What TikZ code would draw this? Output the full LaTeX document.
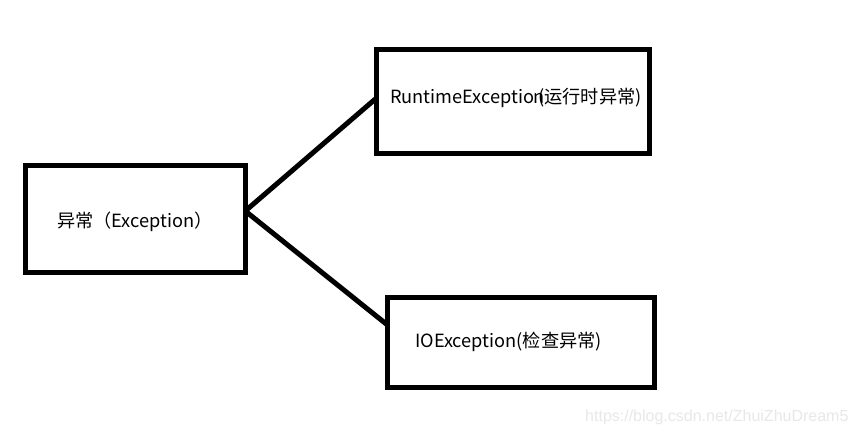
\documentclass[tikz,border=0pt]{standalone}
\usepackage{fontspec}
\setmainfont{Noto Sans CJK SC}
\newfontfamily\wmfont{Liberation Sans}
\begin{document}
\begin{tikzpicture}[x=1pt,y=-1pt,
  boxst/.style={draw=black,line width=5pt,inner sep=0pt,outer sep=0pt},
  conn/.style={draw=black,line width=5pt},
  txt/.style={anchor=west,inner sep=0pt,font=\fontsize{18.2}{20}\selectfont,text=black}]
\useasboundingbox[fill=white] (0,0) rectangle (856,435);
\node[boxst,minimum width=220pt,minimum height=107.5pt] (exc) at (135.25,219.25) {};
\node[boxst,minimum width=273pt,minimum height=104pt] (rt) at (513,101.5) {};
\node[boxst,minimum width=267pt,minimum height=90pt] (io) at (521,342.5) {};
\coordinate (j) at (exc.east |- 0,211);
\coordinate (rtin) at (rt.west |- 0,98);
\coordinate (ioin) at (io.west |- 0,325);
\draw[conn] (j) -- (rtin);
\draw[conn] (j) -- (ioin);
\node[txt] (t1) at (57,222) {异常（Exception）};
\node[txt] (t2) at (390,98) {RuntimeExceptio\kern-1pt n\kern-6pt(运行时异常)};
\node[txt] (t3) at (415,342) {IOException(检查异常)};
\node[anchor=west,inner sep=0pt,font=\wmfont\fontsize{16}{18}\selectfont,text=black!9] (wm) at (585,417) {https://blog.csdn.net/ZhuiZhuDream5};
\end{tikzpicture}
\end{document}
